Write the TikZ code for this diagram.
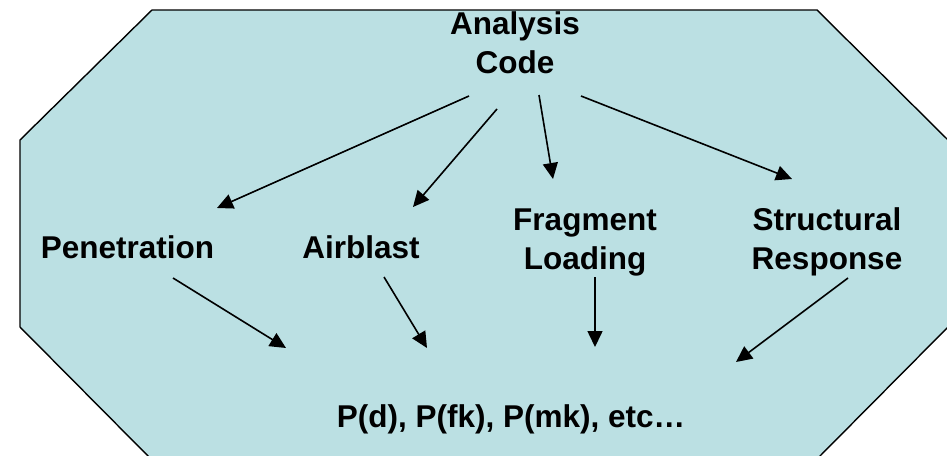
\documentclass[tikz,border=0pt]{standalone}
\usepackage{fontspec}
\setmainfont{Liberation Sans}
\usetikzlibrary{arrows.meta,calc}
\definecolor{panel}{RGB}{187,224,227}
\tikzset{
  lbl/.style={inner sep=0pt, align=center, font=\fontsize{31.5}{39}\selectfont\bfseries},
  arr/.style={line width=1.6pt, -{Triangle[length=16pt,width=15pt]}},
}
\begin{document}
\begin{tikzpicture}[x=1pt,y=-1pt]
  \useasboundingbox (0,0) rectangle (947,455);
  \begin{scope}
    \clip (0,0) rectangle (947,455);
    % octagonal panel behind the flow
    \filldraw[fill=panel, draw=black, line width=1.4pt]
      (152,10) -- (817,10) -- (948,140) -- (948,327) -- (818,458)
      -- (150,458) -- (20,327) -- (20,140) -- cycle;
  \end{scope}

  \node[lbl] (ac)   at (515,43)    {Analysis\\Code};
  \node[lbl, text height=0.72em, text depth=0pt] (pen)  at (127.5,254.5) {Penetration};
  \node[lbl, text height=0.72em, text depth=0pt] (air)  at (361,254.5)   {Airblast};
  \node[lbl] (frag) at (585,242)   {Fragment\\Loading};
  \node[lbl] (str)  at (827,242)   {Structural\\Response};
  \node[lbl, text height=0.73em, text depth=0.21em] (res) at (511,425) {P(d), P(fk), P(mk), etc…};

  % analysis code feeds each model
  \draw[arr] ($(ac.center)+(-46,53)$) -- ($(pen.center)+(89.5,-46.5)$);
  \draw[arr] ($(ac.center)+(-18,66)$) -- ($(air.center)+(52,-47.5)$);
  \draw[arr] ($(ac.center)+(24,52)$)  -- ($(frag.center)+(-32,-63)$);
  \draw[arr] ($(ac.center)+(66,53)$)  -- ($(str.center)+(-35,-63)$);

  % each model feeds the probabilities
  \draw[arr] ($(pen.center)+(45.5,23.5)$) -- ($(res.center)+(-225,-77)$);
  \draw[arr] ($(air.center)+(23,22.5)$)   -- ($(res.center)+(-84,-77)$);
  \draw[arr] ($(frag.center)+(10,35)$)    -- ($(res.center)+(84,-78)$);
  \draw[arr] ($(str.center)+(21,36)$)     -- ($(res.center)+(225,-63)$);
\end{tikzpicture}
\end{document}
